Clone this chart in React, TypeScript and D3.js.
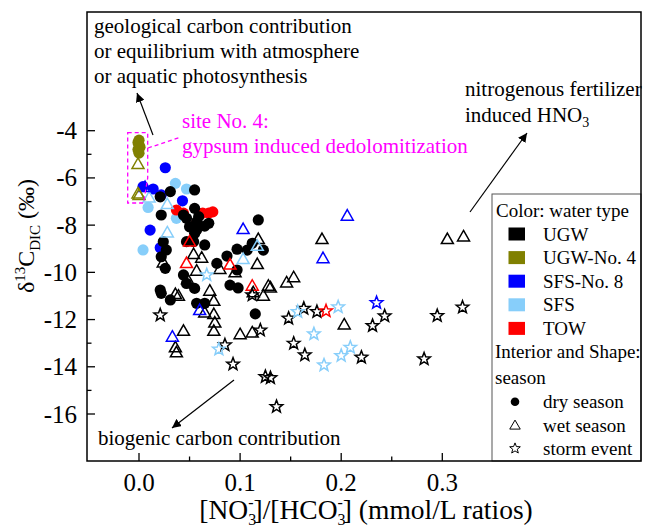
import React from "react";
import * as d3 from "d3";

// [NO3-]/[HCO3-] ratio vs δ13C-DIC (‰), grouped by water type and season
type Pt = [number, number];

// UGW (groundwater)
const ugwDry: Pt[] = [
  [0.055, -6.51], [0.031, -6.58], [0.021, -6.8], [0.022, -7.57], [0.044, -7.57],
  [0.055, -7.29], [0.047, -7.71], [0.059, -7.64], [0.05, -8.07], [0.065, -8.04],
  [0.055, -8.35], [0.054, -8.7], [0.065, -8.84], [0.024, -8.7], [0.027, -9.05],
  [0.022, -9.34], [0.026, -9.83], [0.044, -10.11], [0.047, -10.47], [0.021, -10.75],
  [0.022, -10.89], [0.031, -11.17], [0.057, -11.31], [0.065, -11.31], [0.077, -9.62],
  [0.087, -9.31], [0.097, -9.02], [0.107, -9.06], [0.112, -8.77], [0.123, -9.06],
  [0.118, -7.78], [0.09, -10.54], [0.098, -10.66], [0.115, -11.76], [0.057, -7.86],
  [0.057, -8.21], [0.069, -7.92], [0.097, -9.9], [0.055, -10.68], [0.047, -8.7],
];
const ugwWet: Pt[] = [
  [0.054, -9.27], [0.062, -9.42], [0.024, -9.62], [0.057, -9.97], [0.08, -9.9],
  [0.095, -10.04], [0.117, -9.69], [0.118, -8.63], [0.048, -10.33], [0.07, -10.82],
  [0.036, -10.96], [0.039, -11.03], [0.074, -11.25], [0.065, -11.74], [0.113, -10.89],
  [0.123, -11.03], [0.128, -10.61], [0.13, -10.68], [0.181, -8.63], [0.146, -10.47],
  [0.153, -10.25], [0.074, -11.81], [0.075, -12.17], [0.074, -12.52], [0.044, -12.52],
  [0.1, -12.66], [0.112, -12.59], [0.203, -12.25], [0.036, -13.22], [0.037, -13.43],
  [0.305, -8.63], [0.321, -8.52],
];
const ugwStorm: Pt[] = [
  [0.163, -11.53], [0.148, -11.95], [0.176, -11.67], [0.12, -12.45], [0.085, -13.08],
  [0.153, -13.01], [0.164, -13.5], [0.093, -13.89], [0.22, -13.6], [0.231, -12.26],
  [0.125, -14.42], [0.13, -14.47], [0.021, -11.81], [0.136, -15.69], [0.243, -11.85],
  [0.295, -11.84], [0.32, -11.48], [0.282, -13.67], [0.112, -10.96],
];

// UGW at site No. 4
const no4Dry: Pt[] = [
  [0.0, -4.4], [-0.001, -4.5], [0.0, -4.6], [0.001, -4.7], [-0.001, -4.8], [0.0, -4.95],
];
const no4Wet: Pt[] = [[-0.001, -5.45], [-0.001, -6.7], [0.0, -6.77]];

// SFS at site No. 8
const sfs8Dry: Pt[] = [
  [0.026, -5.57], [0.004, -6.37], [0.014, -6.47], [0.022, -6.72], [0.043, -6.97],
  [0.011, -8.21], [0.021, -8.96],
];
const sfs8Wet: Pt[] = [
  [0.006, -6.43], [0.103, -8.21], [0.206, -7.64], [0.182, -9.44], [0.06, -11.64], [0.033, -12.77],
];
const sfs8Storm: Pt[] = [[0.235, -11.29]];

// SFS (surface water)
const sfsDry: Pt[] = [[0.036, -6.23], [0.047, -6.47], [0.009, -7.25], [0.004, -9.05], [0.037, -7.71]];
const sfsWet: Pt[] = [[0.01, -6.87], [0.028, -7.15], [0.028, -8.35], [0.103, -9.48], [0.117, -8.92]];
const sfsStorm: Pt[] = [
  [0.067, -10.11], [0.079, -13.26], [0.183, -13.93], [0.173, -12.61], [0.197, -11.47],
  [0.157, -11.67], [0.209, -13.18], [0.2, -13.53],
];

// TOW
const towDry: Pt[] = [
  [0.057, -7.91], [0.037, -7.36], [0.044, -7.49], [0.063, -7.49], [0.069, -7.49], [0.073, -7.44],
];
const towWet: Pt[] = [[0.047, -9.65], [0.09, -9.71], [0.112, -10.61], [0.05, -8.74]];
const towStorm: Pt[] = [[0.185, -11.64]];

// axis ticks
const xMajorTicks = [0, 0.1, 0.2, 0.3];
const xMinorTicks = [0.05, 0.15, 0.25];
const yMajorTicks = [-16, -14, -12, -10, -8, -6, -4];
const yMinorTicks = [-15, -13, -11, -9, -7, -5];

// legend entries
const waterTypes = ["UGW", "UGW-No. 4", "SFS-No. 8", "SFS", "TOW"];
const waterColors = ["#000000", "#808000", "#0000ff", "#87cefa", "#ff0000"];
const seasons = ["dry season", "wet season", "storm event"];

const FONT = "'Liberation Serif', 'Times New Roman', Times, serif";

// plot box
const L = 87, R = 641, T = 12, B = 461;

const x = d3.scaleLinear().domain([0, 0.3]).range([139, 442.3]);
const y = d3.scaleLinear().domain([-16, -4]).range([414, 130.7]);

function starPath(ro: number, ri: number): string {
  const pts: [number, number][] = [];
  for (let i = 0; i < 10; i++) {
    const a = -Math.PI / 2 + (i * Math.PI) / 5;
    const rr = i % 2 === 0 ? ro : ri;
    pts.push([rr * Math.cos(a), rr * Math.sin(a)]);
  }
  return d3.line()(pts) + "Z";
}
function triPath(w: number, h: number): string {
  return `M0,${(-h * 2) / 3}L${w / 2},${h / 3}L${-w / 2},${h / 3}Z`;
}

const TRI = triPath(12, 10.5);
const STAR = starPath(6.6, 2.8);
const TRI_LEG = triPath(10.5, 9);
const STAR_LEG = starPath(5.6, 2.4);

type Shape = "dry" | "wet" | "storm";
const Marks = ({ data, color, shape }: { data: Pt[]; color: string; shape: Shape }) => (
  <g>
    {data.map((d, i) =>
      shape === "dry" ? (
        <circle key={i} cx={x(d[0])} cy={y(d[1])} r={5.6} fill={color} />
      ) : (
        <path
          key={i}
          d={shape === "wet" ? TRI : STAR}
          transform={`translate(${x(d[0])},${y(d[1])})`}
          fill="none"
          stroke={color}
          strokeWidth={1.5}
          strokeLinejoin="miter"
        />
      )
    )}
  </g>
);

export default function App() {
  const legRow = (i: number) => 234 + i * 23.6;
  const seasonRow = (i: number) => 401.7 + i * 23.4;
  const tf = { fontFamily: FONT };
  return (
    <svg
      width={645}
      height={527}
      style={{ position: "absolute", left: 0, top: 0, background: "#fff", fontFamily: FONT }}
    >
      <defs>
        <marker id="ah" viewBox="0 0 10 10" refX="10" refY="5" markerWidth="9" markerHeight="9"
          markerUnits="userSpaceOnUse" orient="auto">
          <path d="M0,0L10,5L0,10Z" fill="#000" />
        </marker>
      </defs>
      <rect x={0} y={0} width={645} height={527} fill="#fff" />

      {/* circles (dry season) */}
      <Marks data={sfsDry} color={waterColors[3]} shape="dry" />
      <Marks data={sfs8Dry} color={waterColors[2]} shape="dry" />
      <Marks data={towDry} color={waterColors[4]} shape="dry" />
      <Marks data={ugwDry} color={waterColors[0]} shape="dry" />
      <Marks data={no4Dry} color={waterColors[1]} shape="dry" />

      {/* triangles (wet season) and stars (storm event) */}
      <Marks data={ugwWet} color={waterColors[0]} shape="wet" />
      <Marks data={sfsWet} color={waterColors[3]} shape="wet" />
      <Marks data={sfs8Wet} color={waterColors[2]} shape="wet" />
      <Marks data={towWet} color={waterColors[4]} shape="wet" />
      <Marks data={no4Wet} color={waterColors[1]} shape="wet" />
      <Marks data={ugwStorm} color={waterColors[0]} shape="storm" />
      <Marks data={sfsStorm} color={waterColors[3]} shape="storm" />
      <Marks data={sfs8Storm} color={waterColors[2]} shape="storm" />
      <Marks data={towStorm} color={waterColors[4]} shape="storm" />

      {/* site No. 4 outline */}
      <path
        d="M127.7,132.7L147.7,132.7L147.7,178L143.5,203L127.7,203Z"
        fill="none" stroke="#ff00ff" strokeWidth={1.3} strokeDasharray="4,3"
      />
      <line x1={148} y1={148} x2={181} y2={137} stroke="#ff00ff" strokeWidth={1.3} strokeDasharray="4,3" />
      <text style={tf} x={182} y={128} fontSize={21} fill="#ff00ff">site No. 4:</text>
      <text style={tf} x={182} y={153} fontSize={21} fill="#ff00ff">gypsum induced dedolomitization</text>

      {/* annotations */}
      <g fontSize={21} fill="#000" style={tf}>
        <text x={94} y={33}>geological carbon contribution</text>
        <text x={94} y={58}>or equilibrium with atmosphere</text>
        <text x={94} y={83}>or aquatic photosynthesis</text>
        <text x={465} y={96}>nitrogenous fertilizer</text>
        <text x={465} y={122}>
          induced HNO<tspan dy={5} fontSize={14}>3</tspan>
        </text>
        <text x={98} y={445}>biogenic carbon contribution</text>
      </g>
      <line x1={153} y1={135} x2={137} y2={93} stroke="#000" strokeWidth={1.2} markerEnd="url(#ah)" />
      <line x1={470} y1={212} x2={527} y2={133} stroke="#000" strokeWidth={1.2} markerEnd="url(#ah)" />
      <line x1={234} y1={380} x2={172} y2={428} stroke="#000" strokeWidth={1.2} markerEnd="url(#ah)" />

      {/* legend */}
      <rect x={492} y={194} width={R - 492} height={B - 194} fill="#fff" stroke="#555" strokeWidth={1} />
      <g fontSize={19} fill="#000" style={tf}>
        <text x={496} y={217}>Color: water type</text>
        {waterTypes.map((w, i) => (
          <g key={w}>
            <rect x={508.5} y={legRow(i) - 6.5} width={16.5} height={13} fill={waterColors[i]} />
            <text x={543} y={legRow(i) + 6.5}>{w}</text>
          </g>
        ))}
        <text x={495} y={358}>Interior and Shape:</text>
        <text x={495} y={384}>season</text>
        {seasons.map((s, i) => (
          <g key={s}>
            {i === 0 ? (
              <circle cx={515} cy={seasonRow(i)} r={4.3} fill="#000" />
            ) : (
              <path
                d={i === 1 ? TRI_LEG : STAR_LEG}
                transform={`translate(515,${seasonRow(i) + (i === 1 ? 1 : 0)})`}
                fill="none" stroke="#000" strokeWidth={1}
              />
            )}
            <text x={543} y={seasonRow(i) + 6.5}>{s}</text>
          </g>
        ))}
      </g>

      {/* frame and ticks */}
      <rect x={L} y={T} width={R - L} height={B - T} fill="none" stroke="#000" strokeWidth={1.5} />
      {xMajorTicks.map((t) => (
        <line key={"xM" + t} x1={x(t)} x2={x(t)} y1={B} y2={B - 8} stroke="#000" strokeWidth={1.3} />
      ))}
      {xMinorTicks.map((t) => (
        <line key={"xm" + t} x1={x(t)} x2={x(t)} y1={B} y2={B - 4.5} stroke="#000" strokeWidth={1.3} />
      ))}
      {yMajorTicks.map((t) => (
        <line key={"yM" + t} x1={L} x2={L + 8} y1={y(t)} y2={y(t)} stroke="#000" strokeWidth={1.3} />
      ))}
      {yMinorTicks.map((t) => (
        <line key={"ym" + t} x1={L} x2={L + 4.5} y1={y(t)} y2={y(t)} stroke="#000" strokeWidth={1.3} />
      ))}
      <g fontSize={25} fill="#000" style={tf}>
        {xMajorTicks.map((t) => (
          <text key={"xl" + t} x={x(t)} y={491} textAnchor="middle">{d3.format(".1f")(t)}</text>
        ))}
        {yMajorTicks.map((t) => (
          <text key={"yl" + t} x={77} y={y(t) + 8.5} textAnchor="end">{String(t)}</text>
        ))}
      </g>

      {/* axis titles */}
      <text style={tf} x={(L + R) / 2 + 2} y={519} fontSize={27.5} textAnchor="middle">
        [NO<tspan dy={6} fontSize={16}>3</tspan>
        <tspan dy={-17} dx={-8} fontSize={16}>-</tspan>
        <tspan dy={11}>]/[HCO</tspan>
        <tspan dy={6} fontSize={16}>3</tspan>
        <tspan dy={-17} dx={-8} fontSize={16}>-</tspan>
        <tspan dy={11}>] (mmol/L ratios)</tspan>
      </text>
      <text style={tf} transform="translate(34,236) rotate(-90)" fontSize={24} textAnchor="middle">
        δ<tspan dy={-9} fontSize={15}>13</tspan>
        <tspan dy={9}>C</tspan>
        <tspan dy={6} fontSize={15}>DIC</tspan>
        <tspan dy={-6}> (‰)</tspan>
      </text>
    </svg>
  );
}
